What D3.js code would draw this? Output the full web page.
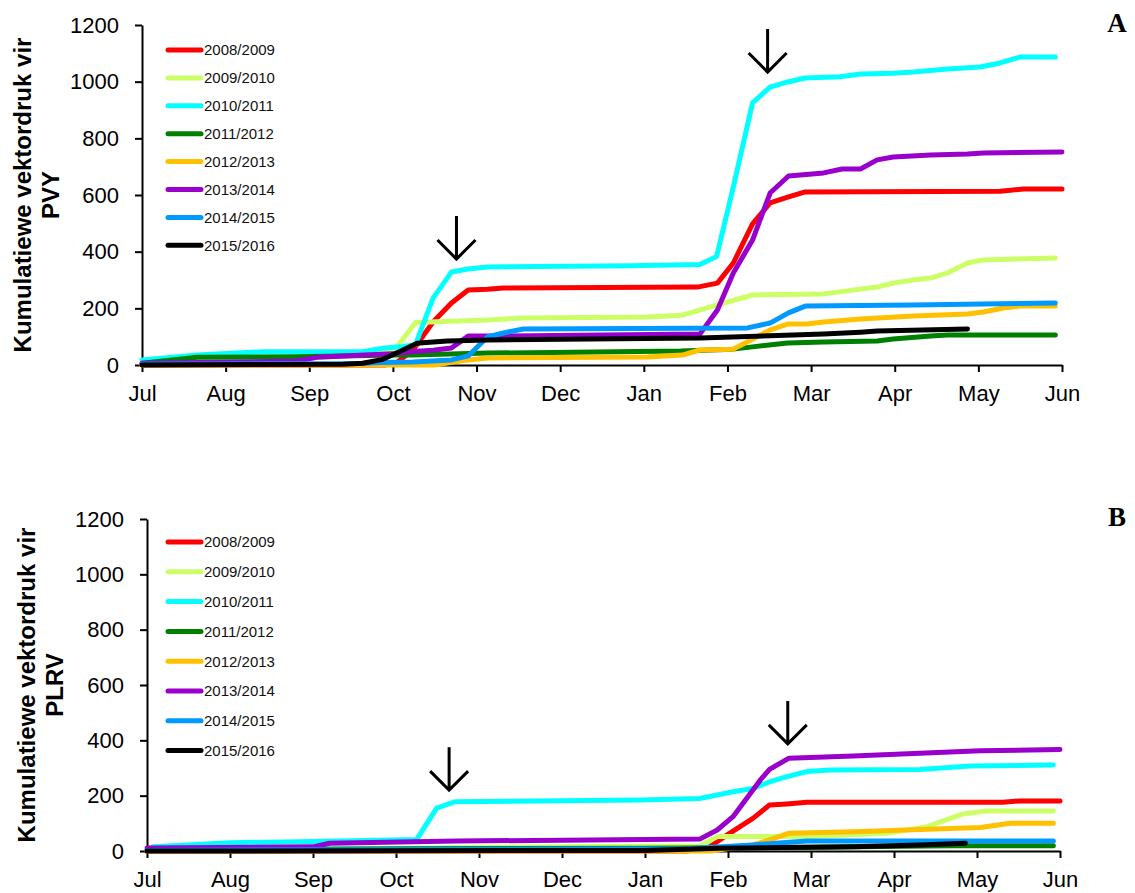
<!DOCTYPE html>
<html>
<head>
<meta charset="utf-8">
<title>kumulatiewe vektordruk</title>
<script src="https://cdnjs.cloudflare.com/ajax/libs/d3/7.8.5/d3.min.js"></script>
<style>
  body { margin: 0; background: #fff; }
  .axis path, .axis line { stroke: #000; stroke-width: 2px; }
  .axis text { font-family: "Liberation Sans", Arial, sans-serif; font-size: 22px; fill: #000; }
  .ytitle { font-family: "Liberation Sans", Arial, sans-serif; font-size: 24px; font-weight: bold; }
  .legend text { font-family: "Liberation Sans", Arial, sans-serif; font-size: 15px; fill: #111; }
  .panel-label { font-family: "Liberation Serif", "Times New Roman", serif; font-size: 27px; font-weight: bold; }
</style>
</head>
<body>
<script>
// months from 1 July (0) to 1 June (11)
var months = ['Jul', 'Aug', 'Sep', 'Oct', 'Nov', 'Dec', 'Jan', 'Feb', 'Mar', 'Apr', 'May', 'Jun'];
var seasons = ['2008/2009', '2009/2010', '2010/2011', '2011/2012', '2012/2013', '2013/2014', '2014/2015', '2015/2016'];
var colours = ['#ff0000', '#ccff66', '#00ffff', '#008000', '#ffc000', '#9900cc', '#0099ff', '#000000'];
var yTicks = [0, 200, 400, 600, 800, 1000, 1200];

// PVY, [month, cumulative pressure]
var pvy0809 = [[0,0],[2.9,0],[3.05,10],[3.24,53],[3.48,152],[3.70,219],[3.90,265],[4.13,267],[4.32,272],[6.64,275],[6.88,289],[7.07,360],[7.30,498],[7.51,572],[7.73,593],[7.93,611],[10.26,613],[10.54,621],[11,621]];
var pvy0910 = [[0,5],[1,15],[2,25],[2.85,40],[3.05,64],[3.27,150],[4.13,159],[4.56,166],[6.04,169],[6.46,176],[6.88,212],[7.30,247],[8.15,251],[8.79,275],[8.98,289],[9.22,300],[9.43,307],[9.63,325],[9.87,360],[10.06,371],[10.92,378]];
var pvy1011 = [[0,18],[0.66,35],[1.45,47],[2.64,47],[2.88,59],[3.12,65],[3.27,72],[3.48,236],[3.70,328],[3.90,339],[4.13,346],[5.84,350],[6.67,355],[6.87,383],[7.07,628],[7.30,925],[7.51,981],[7.72,999],[7.93,1013],[8.35,1017],[8.59,1027],[8.98,1030],[9.22,1034],[9.63,1045],[10.02,1052],[10.26,1066],[10.5,1087],[10.92,1087]];
var pvy1112 = [[0,6],[0.66,27],[1.85,29],[3.05,35],[3.24,35],[4.13,42],[6.44,49],[7.07,56],[7.30,64],[7.72,78],[8.15,81],[8.79,85],[8.98,92],[9.43,102],[9.63,106],[10.92,106]];
var pvy1213 = [[0,0],[3.5,0],[3.9,18],[4.13,25],[6.04,28],[6.46,35],[6.67,53],[7.07,56],[7.51,124],[7.73,145],[7.95,145],[8.15,152],[8.59,162],[9.22,173],[9.87,180],[10.06,187],[10.3,201],[10.5,208],[10.92,208]];
var pvy1314 = [[0,6],[1.85,14],[2.09,27],[3.05,41],[3.24,48],[3.48,52],[3.70,60],[3.90,102],[4.13,102],[6.67,109],[6.88,194],[7.07,325],[7.30,441],[7.51,607],[7.73,667],[8.15,678],[8.37,692],[8.59,692],[8.79,724],[8.98,734],[9.43,741],[9.87,745],[10.06,748],[11,752]];
var pvy1415 = [[0,3],[2.6,5],[2.85,9],[3.24,11],[3.70,18],[3.90,32],[4.13,99],[4.32,113],[4.56,127],[7.24,131],[7.51,148],[7.73,184],[7.93,208],[9.22,212],[10.92,219]];
var pvy1516 = [[0,0],[2.4,3],[2.64,6],[2.88,20],[3.12,53],[3.29,77],[3.44,80],[3.65,85],[4.13,88],[6.67,95],[8.15,109],[8.59,116],[8.79,120],[9.87,127]];

// PLRV
var plrv0809 = [[0,0],[6.5,0],[6.75,10],[6.99,58],[7.3,118],[7.5,166],[7.71,170],[7.95,176],[10.31,176],[10.52,181],[11,181]];
var plrv0910 = [[0,3],[1,6],[3,10],[4,14],[6.66,18],[6.87,52],[8.0,52],[8.92,64],[9.4,88],[9.83,134],[10.12,145],[10.92,145]];
var plrv1011 = [[0.07,15],[1,30],[2,34],[3.25,42],[3.49,155],[3.71,178],[5.94,184],[6.66,190],[7.06,214],[7.3,226],[7.5,250],[7.71,269],[7.95,287],[8.23,293],[9.31,295],[9.92,307],[10.92,311]];
var plrv1112 = [[0,2],[1,5],[3,8],[6,10],[8,14],[9.7,19],[10.92,19]];
var plrv1213 = [[0,0],[6.8,0],[7.3,22],[7.5,40],[7.73,64],[8.51,70],[9.31,78],[10.04,85],[10.4,100],[10.92,100]];
var plrv1314 = [[0,11],[2.0,15],[2.2,28],[3.73,36],[6.66,43],[6.87,76],[7.06,124],[7.39,257],[7.5,295],[7.73,335],[8.51,343],[9.31,353],[10.04,362],[11,367]];
var plrv1415 = [[0,2],[3,5],[6.5,8],[7.3,22],[7.95,36],[10.92,36]];
var plrv1516 = [[0,0],[6,2],[6.9,10],[8.51,15],[9.31,22],[9.86,28]];

// arrow tips, [month, value]
var arrowsPvy = [[3.76, 374], [7.48, 1034]];
var arrowsPlrv = [[3.64, 220], [7.72, 387]];

var panels = [
  { label: 'A', virus: 'PVY', series: [pvy0809, pvy0910, pvy1011, pvy1112, pvy1213, pvy1314, pvy1415, pvy1516],
    arrows: arrowsPvy, left: 142, right: 1062, bottom: 365, top: 25,
    titleX: 31, legendY: 50, legendStep: 27.9, labelY: 32 },
  { label: 'B', virus: 'PLRV', series: [plrv0809, plrv0910, plrv1011, plrv1112, plrv1213, plrv1314, plrv1415, plrv1516],
    arrows: arrowsPlrv, left: 147, right: 1060, bottom: 851, top: 519,
    titleX: 35, legendY: 542, legendStep: 29.8, labelY: 526 }
];

var svg = d3.select('body')
            .append('svg')
              .attr('width', 1135)
              .attr('height', 893);

panels.forEach(function(p) {
  var x = d3.scaleLinear().domain([0, 11]).range([p.left, p.right]);
  var y = d3.scaleLinear().domain([0, 1200]).range([p.bottom, p.top]);

  var g = svg.append('g');

  // axes
  g.append('g')
     .attr('class', 'axis')
     .attr('transform', 'translate(0,' + p.bottom + ')')
     .call(d3.axisBottom(x)
             .tickValues(d3.range(12))
             .tickFormat(function(d) { return months[d]; })
             .tickSize(7).tickSizeOuter(0).tickPadding(13));

  g.append('g')
     .attr('class', 'axis')
     .attr('transform', 'translate(' + p.left + ',0)')
     .call(d3.axisLeft(y)
             .tickValues(yTicks)
             .tickFormat(d3.format('d'))
             .tickSize(7).tickSizeOuter(0).tickPadding(16));

  // y title, two lines
  var cy = (p.top + p.bottom) / 2;
  g.append('text')
     .attr('class', 'ytitle')
     .attr('text-anchor', 'middle')
     .attr('transform', 'translate(' + p.titleX + ',' + cy + ') rotate(-90)')
     .text('Kumulatiewe vektordruk vir');
  g.append('text')
     .attr('class', 'ytitle')
     .attr('text-anchor', 'middle')
     .attr('transform', 'translate(' + (p.titleX + 28) + ',' + cy + ') rotate(-90)')
     .text(p.virus);

  // lines
  var line = d3.line()
               .x(function(d) { return x(d[0]); })
               .y(function(d) { return y(d[1]); });

  g.selectAll('path.season')
     .data(p.series)
     .enter()
     .append('path')
       .attr('class', 'season')
       .attr('d', line)
       .attr('fill', 'none')
       .attr('stroke', function(d, i) { return colours[i]; })
       .attr('stroke-width', 5)
       .attr('stroke-linejoin', 'round')
       .attr('stroke-linecap', 'round');

  // legend
  var legend = g.append('g').attr('class', 'legend');
  var item = legend.selectAll('g')
                   .data(seasons)
                   .enter()
                   .append('g')
                     .attr('transform', function(d, i) { return 'translate(0,' + (p.legendY + i * p.legendStep) + ')'; });
  item.append('line')
        .attr('x1', 168).attr('x2', 201)
        .attr('stroke', function(d, i) { return colours[i]; })
        .attr('stroke-width', 5)
        .attr('stroke-linecap', 'round');
  item.append('text')
        .attr('x', 204)
        .attr('dy', '0.36em')
        .text(function(d) { return d; });

  // arrows
  g.selectAll('path.arrow')
     .data(p.arrows)
     .enter()
     .append('path')
       .attr('class', 'arrow')
       .attr('d', function(d) {
         var ax = x(d[0]), ay = y(d[1]);
         return 'M' + ax + ',' + (ay - 43) + 'L' + ax + ',' + ay +
                'M' + (ax - 19) + ',' + (ay - 19) + 'L' + ax + ',' + ay + 'L' + (ax + 19) + ',' + (ay - 19);
       })
       .attr('fill', 'none')
       .attr('stroke', '#000')
       .attr('stroke-width', 3);

  g.append('text')
     .attr('class', 'panel-label')
     .attr('x', 1117)
     .attr('y', p.labelY)
     .attr('text-anchor', 'middle')
     .text(p.label);
});
</script>
</body>
</html>
